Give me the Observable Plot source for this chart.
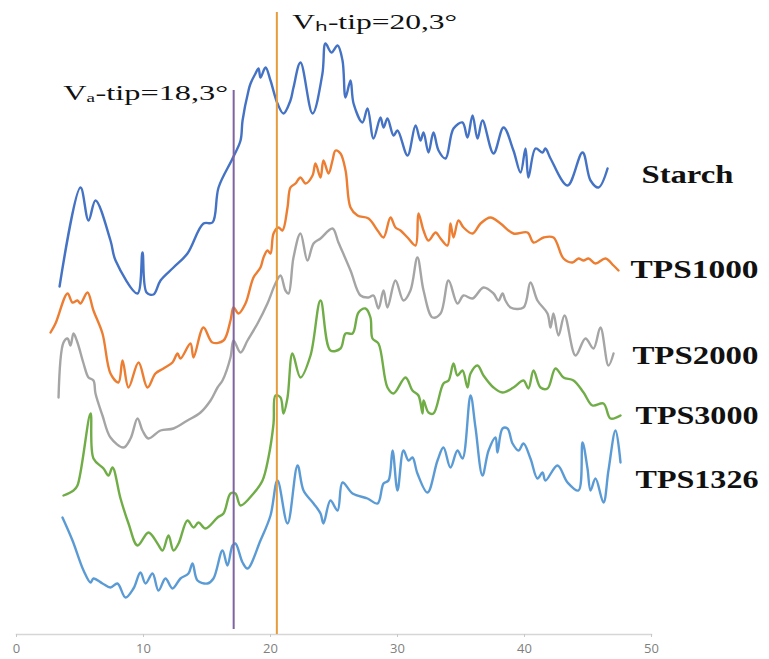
<!DOCTYPE html>
<html><head><meta charset="utf-8">
<script src="https://cdn.jsdelivr.net/npm/d3@7"></script>
<script src="https://cdn.jsdelivr.net/npm/@observablehq/plot@0.6"></script>
<style>html,body{margin:0;padding:0;background:#fff} svg{display:block}</style>
</head><body><div id="chart"></div>
<script>
// 2θ (degrees) and relative intensity (arbitrary, stacked offsets as in the figure)
const starch = [[3.39,346],[5.04,445],[5.67,412],[6.22,432],[7.40,392],[7.80,372],[9.53,339],[9.92,380],[10.24,340],[10.79,338],[11.34,352],[12.36,365],[13.46,379],[14.72,409],[15.43,410],[15.91,445],[17.01,474],[17.64,492],[17.80,512],[18.27,542],[18.43,549],[18.82,559],[19.06,564],[19.21,555],[19.61,565],[20.0,552],[20.55,529],[21.02,519],[21.57,532],[21.81,545],[22.36,570],[23.31,519],[24.09,559],[24.33,589],[24.80,580],[25.28,587],[25.67,572],[25.91,535],[26.30,552],[26.54,529],[27.24,510],[27.64,524],[28.11,494],[28.66,515],[28.90,505],[29.21,514],[29.69,497],[30.0,502],[30.79,477],[31.42,507],[31.81,492],[32.05,500],[32.44,480],[32.83,500],[33.23,482],[33.78,474],[34.41,504],[35.12,510],[35.51,495],[35.91,517],[36.30,494],[36.69,512],[37.56,479],[38.35,505],[39.13,482],[39.69,460],[40.08,484],[40.31,455],[40.87,484],[41.42,480],[41.65,484],[42.05,474],[43.39,447],[44.57,480],[45.20,452],[45.83,445],[46.54,464]];
const tps1000 = [[2.68,300],[3.07,309],[4.02,339],[4.41,330],[4.80,332],[5.04,329],[5.59,340],[6.06,322],[6.77,299],[7.40,259],[8.03,250],[8.35,272],[8.82,245],[9.61,270],[10.31,245],[10.94,259],[11.57,264],[12.28,270],[12.68,279],[12.91,274],[13.70,289],[13.94,275],[14.72,305],[15.43,290],[16.30,292],[16.85,312],[17.09,325],[17.48,319],[18.03,329],[18.66,355],[19.21,365],[19.45,375],[19.76,382],[20.0,379],[20.24,399],[20.63,405],[20.94,402],[21.34,425],[21.57,445],[21.97,449],[22.36,455],[22.76,449],[23.31,457],[23.54,469],[23.94,455],[24.17,472],[24.57,459],[24.88,472],[25.12,482],[25.51,479],[25.91,462],[26.30,425],[26.85,417],[27.72,414],[28.43,402],[28.90,395],[29.45,415],[29.84,405],[30.24,402],[30.79,395],[31.42,387],[31.65,419],[32.05,402],[32.44,392],[33.0,400],[33.39,394],[33.94,387],[34.17,409],[34.41,395],[34.80,412],[35.20,405],[35.91,399],[36.54,409],[37.32,415],[38.11,409],[39.13,399],[40.24,400],[40.71,390],[41.50,395],[42.28,395],[43.07,374],[43.78,370],[44.25,374],[44.65,372],[45.04,374],[45.59,369],[46.38,374],[47.01,367],[47.40,362]];
const tps2000 = [[3.31,235],[3.70,290],[4.02,294],[4.25,287],[4.49,299],[4.80,290],[5.28,269],[5.67,255],[6.06,252],[6.22,239],[6.77,217],[7.40,195],[8.43,185],[8.98,194],[9.53,214],[9.92,202],[10.39,194],[11.34,202],[12.36,204],[13.46,212],[14.49,220],[15.28,232],[15.83,245],[16.22,252],[16.85,275],[17.09,292],[17.64,280],[18.19,292],[18.98,309],[19.76,329],[20.39,349],[20.79,357],[21.18,342],[21.42,339],[21.81,375],[22.36,399],[22.91,372],[23.39,389],[23.94,394],[24.88,404],[25.35,390],[26.30,362],[27.09,337],[27.72,335],[28.11,337],[28.50,324],[28.90,342],[29.21,325],[29.84,352],[30.47,332],[31.02,342],[31.57,375],[32.05,342],[32.76,315],[33.39,319],[34.02,352],[34.72,329],[35.20,337],[35.91,334],[36.77,345],[37.56,339],[37.95,332],[38.27,339],[38.50,332],[38.90,325],[39.92,325],[40.47,350],[41.02,332],[41.81,319],[42.05,305],[42.28,319],[42.68,297],[43.15,317],[44.02,277],[44.80,294],[45.43,284],[45.98,305],[46.61,267],[47.01,279]];
const tps3000 = [[3.70,137],[4.49,142],[4.80,147],[5.83,219],[6.06,174],[6.85,164],[7.24,157],[7.56,165],[8.19,134],[8.82,109],[9.53,87],[10.39,100],[11.10,89],[11.50,82],[11.97,97],[12.36,82],[12.76,89],[13.46,112],[13.94,105],[14.33,110],[14.88,104],[15.83,115],[16.30,119],[16.85,139],[17.24,139],[17.64,127],[18.66,139],[19.37,152],[19.84,175],[20.24,209],[20.39,237],[20.79,235],[21.02,219],[21.34,235],[21.73,279],[22.36,255],[23.15,277],[23.94,332],[24.72,282],[25.51,284],[25.91,299],[26.46,299],[26.93,320],[27.48,324],[27.87,315],[28.03,294],[28.50,289],[29.21,245],[29.69,239],[30.63,255],[31.18,242],[31.65,237],[31.97,219],[32.05,232],[32.44,220],[32.83,219],[33.62,249],[34.02,252],[34.41,269],[34.72,257],[35.12,262],[35.51,245],[35.75,259],[36.30,267],[36.77,257],[37.56,245],[38.27,240],[39.13,245],[39.92,252],[40.31,244],[40.71,262],[41.26,245],[41.81,244],[42.44,264],[43.07,255],[43.86,252],[44.65,240],[45.35,227],[46.22,229],[46.77,214],[47.56,217]];
const tps1326 = [[3.62,115],[4.41,92],[5.28,62],[5.83,50],[6.06,54],[6.77,49],[7.40,45],[7.95,49],[8.58,35],[9.21,44],[9.76,60],[10.16,49],[10.71,59],[11.18,42],[11.73,54],[12.28,44],[12.91,54],[13.54,59],[13.86,69],[14.25,52],[15.04,49],[15.51,54],[16.22,82],[16.61,67],[17.01,87],[17.24,89],[17.80,70],[18.19,64],[19.21,92],[20.0,117],[20.55,152],[21.34,109],[22.13,167],[22.60,142],[23.39,129],[23.94,119],[24.17,109],[24.72,132],[25.28,122],[25.67,150],[26.46,139],[27.64,134],[28.43,129],[28.90,149],[29.29,152],[29.61,182],[30.0,142],[30.47,182],[30.87,172],[31.18,175],[31.57,159],[32.36,140],[33.15,172],[33.62,185],[34.17,165],[34.72,182],[35.12,174],[35.75,237],[36.14,205],[36.69,157],[37.17,182],[37.72,195],[37.87,180],[38.27,204],[38.66,204],[39.06,189],[39.53,182],[39.92,189],[40.47,174],[41.02,154],[41.42,160],[41.65,152],[42.60,167],[43.39,150],[44.25,142],[44.57,190],[44.96,164],[45.20,142],[45.59,154],[46.22,130],[46.61,162],[47.17,202],[47.56,170]];

const seriesNames = ["Starch", "TPS1000", "TPS2000", "TPS3000", "TPS1326"];
const seriesColors = ["#4472C4", "#ED7D31", "#A5A5A5", "#70AD47", "#5B9BD5"];
const seriesPoints = [starch, tps1000, tps2000, tps3000, tps1326];
const xTicks = [0, 10, 20, 30, 40, 50];

// reference peak markers (label text, where the line is drawn, its vertical extent)
const peakLabels = ["Vₐ-tip=18,3°", "Vₕ-tip=20,3°"];
const peakLineX = [17.1, 20.5];
const peakLineBottom = [3, -2];
const peakLineTop = [542, 620];
const peakColors = ["#8064A2", "#E89B3B"];

const rows = seriesPoints.flatMap((pts, i) => pts.map(([x, y]) => ({series: seriesNames[i], x, y})));
const peakRows = peakLabels.map((label, i) => ({label, x: peakLineX[i], y1: peakLineBottom[i], y2: peakLineTop[i], color: peakColors[i]}));

// label placement (annotation layout)
const seriesLabelAnchor = [[49.21, 458], [48.35, 363], [48.5, 277], [48.74, 217], [48.74, 153]];
const seriesLabelWidth = [92, 128, 126, 123, 123];
const peakLabelAnchor = [[3.68, 540], [21.71, 611]];
const peakLabelWidth = [165, 165];

const labelRows = seriesNames.map((name, i) => ({name, x: seriesLabelAnchor[i][0], y: seriesLabelAnchor[i][1]}));
const peakTextRows = peakLabels.map((name, i) => ({name, x: peakLabelAnchor[i][0], y: peakLabelAnchor[i][1]}));

const plot = Plot.plot({
  width: 769,
  height: 659,
  marginLeft: 16,
  marginRight: 118,
  marginTop: 0,
  marginBottom: 25,
  style: {background: "#fff"},
  x: {domain: [0, 50]},
  y: {domain: [-2, 632], axis: null},
  color: {domain: seriesNames, range: seriesColors},
  marks: [
    Plot.frame({anchor: "bottom", stroke: "#d6d6d6", strokeWidth: 1.5}),
    Plot.axisX({ticks: xTicks, tickSize: 3, tickPadding: 6, fontSize: 13, fontFamily: "Open Sans", fill: "#7f7f7f", stroke: "#c8c8c8", label: null}),
    Plot.line(rows, {x: "x", y: "y", z: "series", stroke: "series", strokeWidth: 2.4, curve: "catmull-rom"}),
    Plot.ruleX(peakRows, {x: "x", y1: "y1", y2: "y2", stroke: "color", strokeWidth: 2}),
    Plot.text(labelRows, {x: "x", y: "y", text: "name", textAnchor: "start", fontSize: 26, fontWeight: "bold", fontFamily: "Liberation Serif", fill: "#111"}),
    Plot.text(peakTextRows, {x: "x", y: "y", text: "name", textAnchor: "start", fontSize: 22, fontFamily: "Liberation Serif", fill: "#111"})
  ]
});

const widthByText = new Map();
seriesNames.forEach((n, i) => widthByText.set(n, seriesLabelWidth[i]));
peakLabels.forEach((n, i) => widthByText.set(n, peakLabelWidth[i]));
plot.querySelectorAll("text").forEach(t => {
  const w = widthByText.get(t.textContent);
  if (w) { t.setAttribute("textLength", w); t.setAttribute("lengthAdjust", "spacingAndGlyphs"); }
});
document.getElementById("chart").append(plot);
</script>
</body></html>
